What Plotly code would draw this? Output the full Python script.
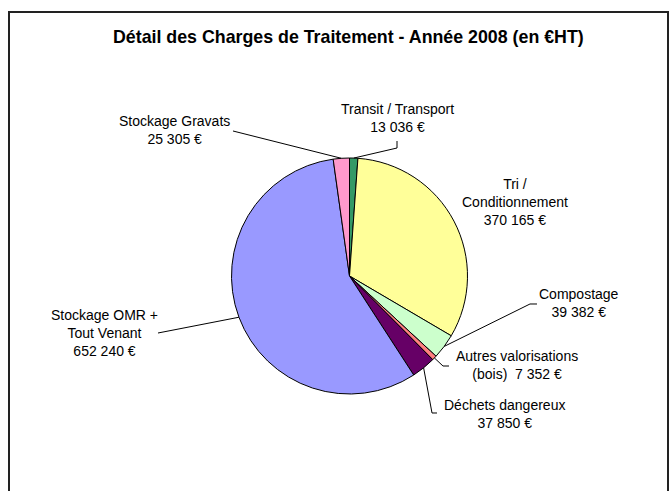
import math
import plotly.graph_objects as go

W, H = 670, 491

# ---- data ----
categories = ["Transit / Transport", "Tri / Conditionnement", "Compostage",
              "Autres valorisations (bois)", "Déchets dangereux",
              "Stockage OMR + Tout Venant", "Stockage Gravats"]
label_names = ["Transit / Transport", "Tri /<br>Conditionnement", "Compostage",
               "Autres valorisations<br>(bois) ", "Déchets dangereux",
               "Stockage OMR +<br>Tout Venant", "Stockage Gravats"]
values = [13036, 370165, 39382, 7352, 37850, 652240, 25305]
colors = ["#339966", "#FFFF99", "#CCFFCC", "#FF8080", "#660066", "#9999FF", "#FF99CC"]
title_text = "Détail des Charges de Traitement - Année 2008 (en €HT)"

# ---- layout constants (pixels) ----
CX, CY, R = 349.5, 276.0, 118.0
FONT = "Liberation Sans, Arial, sans-serif"

def px(x):
    return x / W

def py(y):
    return 1 - y / H

def fmt(v):
    return f"{v:,}".replace(",", " ") + " €"

# label centres and leader line (label side) points, in pixels
label_pos = [(397.5, 118), (515, 201.5), (579, 302.5), (516.5, 365),
             (505, 413.5), (104.5, 332.5), (174.5, 130)]
leader_pts = [[(397, 141), (397, 148)], None, [(537, 304), (530, 304)],
              [(449, 366), (443, 366)], [(437, 413), (432, 413)],
              [(158, 333)], [(233, 131)]]

fig = go.Figure()
fig.add_trace(go.Pie(
    labels=categories, values=values, sort=False, direction="clockwise",
    rotation=0, textinfo="none", hoverinfo="skip",
    marker=dict(colors=colors, line=dict(color="black", width=1)),
    domain=dict(x=[px(CX - R), px(CX + R)], y=[py(CY + R), py(CY - R)]),
    showlegend=False,
))

total = sum(values)
cum = 0
shapes = []
annotations = []
for i, v in enumerate(values):
    mid = (cum + v / 2) / total * 2 * math.pi
    cum += v
    ex = CX + R * math.sin(mid)
    ey = CY - R * math.cos(mid)
    lx, ly = label_pos[i]
    sep = " " if i == 3 else "<br>"
    annotations.append(dict(
        x=px(lx), y=py(ly), xref="paper", yref="paper",
        text=label_names[i] + sep + fmt(v), showarrow=False,
        xanchor="center", yanchor="middle", align="center",
        font=dict(family=FONT, size=14, color="black"),
    ))
    if leader_pts[i]:
        pts = leader_pts[i] + [(ex, ey)]
        path = "M " + " L ".join(f"{px(a):.5f},{py(b):.5f}" for a, b in pts)
        shapes.append(dict(type="path", xref="paper", yref="paper", path=path,
                           line=dict(color="black", width=1)))

# chart frame
shapes.append(dict(type="rect", xref="paper", yref="paper",
                   x0=px(9), x1=px(668), y0=py(520), y1=py(12),
                   line=dict(color="#222222", width=2)))

annotations.append(dict(
    x=px(348), y=py(37), xref="paper", yref="paper", text=f"<b>{title_text}</b>",
    showarrow=False, xanchor="center", yanchor="middle",
    font=dict(family=FONT, size=17.8, color="black"),
))

fig.update_layout(
    width=W, height=H, margin=dict(l=0, r=0, t=0, b=0),
    paper_bgcolor="white", plot_bgcolor="white",
    shapes=shapes, annotations=annotations,
)

fig.write_html(
    "out.html",
    config={"displayModeBar": False},
    post_script="document.body.style.margin='0';document.body.style.overflow='hidden';",
)
